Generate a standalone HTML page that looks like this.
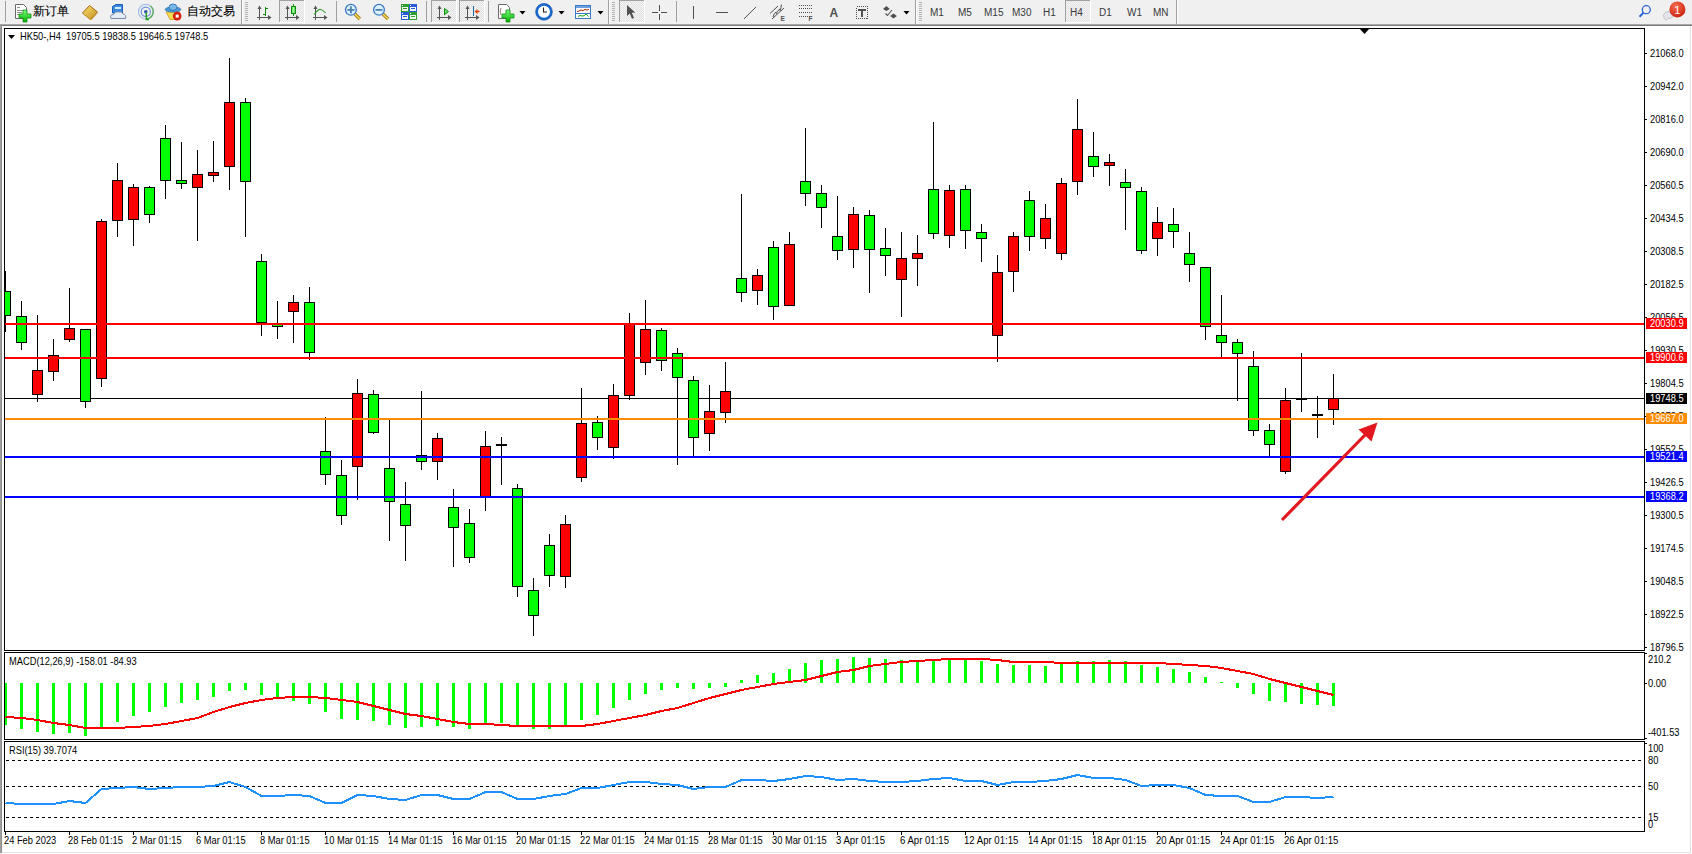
<!DOCTYPE html>
<html><head><meta charset="utf-8"><title>MT4 HK50 H4</title>
<style>
html,body{margin:0;padding:0;width:1692px;height:854px;overflow:hidden;background:#F0F0F0;font-family:"Liberation Sans",sans-serif}
.wrap{position:relative;width:1692px;height:854px}
text{white-space:pre}
</style></head><body><div class="wrap">
<svg width="1692" height="24" style="position:absolute;left:0;top:0" font-family='"Liberation Sans", sans-serif'>
<defs>
<pattern id="dots" width="2" height="2" patternUnits="userSpaceOnUse"><rect width="2" height="2" fill="#F4F4F4"/><rect width="1" height="1" fill="#E2E2E2"/><rect x="1" y="1" width="1" height="1" fill="#E2E2E2"/></pattern>
<linearGradient id="gplus" x1="0" y1="0" x2="0" y2="1"><stop offset="0" stop-color="#7CFF7C"/><stop offset="1" stop-color="#00B000"/></linearGradient>
<linearGradient id="gbook" x1="0" y1="0" x2="1" y2="1"><stop offset="0" stop-color="#F8E070"/><stop offset="1" stop-color="#C89020"/></linearGradient>
<radialGradient id="gbadge" cx="0.4" cy="0.3" r="0.8"><stop offset="0" stop-color="#F87050"/><stop offset="1" stop-color="#C81808"/></radialGradient>
<linearGradient id="gcandle" x1="0" y1="0" x2="1" y2="0"><stop offset="0" stop-color="#30D030"/><stop offset="0.5" stop-color="#A0FFA0"/><stop offset="1" stop-color="#20C020"/></linearGradient>
</defs>
<rect width="1692" height="24" fill="#F0F0F0"/>
<rect x="5" y="1" width="1" height="21" fill="#A0A0A0" shape-rendering="crispEdges"/>
<path d="M15.5,4.5 h8 l3,3 v11 h-11 z" fill="#FFFFFF" stroke="#6A6A6A" stroke-width="1"/>
<rect x="17" y="7" width="3" height="1" fill="#909090"/><rect x="17" y="10" width="6" height="1" fill="#909090"/><rect x="17" y="12" width="5" height="1" fill="#909090"/><rect x="17" y="14" width="3" height="1" fill="#909090"/>
<path d="M23,10 h4 v4 h4 v4 h-4 v4 h-4 v-4 h-4 v-4 h4 z" fill="url(#gplus)" stroke="#109010" stroke-width="0.8"/>
<text x="33" y="15" font-size="11.5" fill="#000" stroke="#000" stroke-width="0.12">新订单</text>
<path d="M82.5,13 L89.5,5.5 L97.5,12 L90.5,19.5 Z" fill="url(#gbook)" stroke="#A06810" stroke-width="1"/>
<path d="M84,14.5 L91,20 L97,13.5" fill="none" stroke="#D8A840" stroke-width="1"/>
<path d="M112.5,6.5 L116,4.5 L122.5,4.5 L122.5,13 L112.5,13 Z" fill="#3A8AE0" stroke="#1E5EB8" stroke-width="1"/>
<rect x="115" y="7" width="6" height="2" fill="#D8ECFF"/>
<path d="M111,18.5 Q109.5,14.5 113.5,14.5 Q115,11 119,12 Q122,11 123,14 Q126.5,14.5 125.5,18.5 Z" fill="#E4ECF6" stroke="#7888A8" stroke-width="1"/>
<circle cx="145.8" cy="11.7" r="7.3" fill="none" stroke="#A8C0E8" stroke-width="1.2"/>
<circle cx="145.8" cy="11.7" r="4.6" fill="none" stroke="#6A90D8" stroke-width="1.2"/>
<path d="M150.5,6 A7.3,7.3 0 0 1 146,19" fill="none" stroke="#60B060" stroke-width="1.4"/>
<circle cx="145.8" cy="11.7" r="1.8" fill="#2A50C0"/>
<path d="M146.3,12 V19.5 H149" fill="none" stroke="#20A020" stroke-width="1.4"/>
<path d="M166,12 L180,12 L176,19.5 L170,19.5 Z" fill="#F4DC50" stroke="#C8A020" stroke-width="0.8"/>
<ellipse cx="173" cy="9.5" rx="7.8" ry="2.6" fill="#4A98D8" stroke="#2A70B0" stroke-width="0.8"/>
<ellipse cx="173" cy="7.2" rx="4" ry="3.2" fill="#78B8E8" stroke="#2A70B0" stroke-width="0.8"/>
<circle cx="177.2" cy="16.1" r="4.3" fill="#D82010"/><rect x="175.7" y="14.6" width="3" height="3" fill="#FFF"/>
<text x="186.5" y="15" font-size="11.5" fill="#000" stroke="#000" stroke-width="0.12">自动交易</text>
<rect x="241" y="0" width="1" height="24" fill="#A0A0A0" shape-rendering="crispEdges"/><rect x="242" y="0" width="1" height="24" fill="#FFFFFF" shape-rendering="crispEdges"/>
<rect x="245" y="2" width="3" height="1" fill="#B4B4B4" shape-rendering="crispEdges"/>
<rect x="245" y="4" width="3" height="1" fill="#B4B4B4" shape-rendering="crispEdges"/>
<rect x="245" y="6" width="3" height="1" fill="#B4B4B4" shape-rendering="crispEdges"/>
<rect x="245" y="8" width="3" height="1" fill="#B4B4B4" shape-rendering="crispEdges"/>
<rect x="245" y="10" width="3" height="1" fill="#B4B4B4" shape-rendering="crispEdges"/>
<rect x="245" y="12" width="3" height="1" fill="#B4B4B4" shape-rendering="crispEdges"/>
<rect x="245" y="14" width="3" height="1" fill="#B4B4B4" shape-rendering="crispEdges"/>
<rect x="245" y="16" width="3" height="1" fill="#B4B4B4" shape-rendering="crispEdges"/>
<rect x="245" y="18" width="3" height="1" fill="#B4B4B4" shape-rendering="crispEdges"/>
<rect x="245" y="20" width="3" height="1" fill="#B4B4B4" shape-rendering="crispEdges"/>
<rect x="259" y="7" width="1" height="13" fill="#555" shape-rendering="crispEdges"/>
<path d="M257.5,9 L259.5,5.5 L261.5,9 Z" fill="#555"/>
<rect x="257" y="17" width="12" height="1" fill="#555" shape-rendering="crispEdges"/>
<path d="M268,15 L271.5,17.5 L268,20 Z" fill="#555"/>
<rect x="265" y="7" width="1" height="9" fill="#108A10" shape-rendering="crispEdges"/><rect x="266" y="8" width="2" height="1" fill="#108A10" shape-rendering="crispEdges"/><rect x="263" y="14" width="2" height="1" fill="#108A10" shape-rendering="crispEdges"/>
<rect x="279" y="0" width="25" height="22" fill="url(#dots)" shape-rendering="crispEdges"/>
<rect x="279" y="0" width="25" height="1" fill="#A0A0A0" shape-rendering="crispEdges"/>
<rect x="279" y="0" width="1" height="22" fill="#A0A0A0" shape-rendering="crispEdges"/>
<rect x="304" y="0" width="1" height="23" fill="#FFFFFF" shape-rendering="crispEdges"/>
<rect x="279" y="22" width="26" height="1" fill="#FFFFFF" shape-rendering="crispEdges"/>
<rect x="287" y="7" width="1" height="13" fill="#555" shape-rendering="crispEdges"/>
<path d="M285.5,9 L287.5,5.5 L289.5,9 Z" fill="#555"/>
<rect x="285" y="17" width="12" height="1" fill="#555" shape-rendering="crispEdges"/>
<path d="M296,15 L299.5,17.5 L296,20 Z" fill="#555"/>
<rect x="293" y="4" width="1" height="12" fill="#108A10" shape-rendering="crispEdges"/>
<rect x="291.5" y="6.5" width="4" height="7" fill="url(#gcandle)" stroke="#108A10" stroke-width="1"/>
<rect x="315" y="7" width="1" height="13" fill="#555" shape-rendering="crispEdges"/>
<path d="M313.5,9 L315.5,5.5 L317.5,9 Z" fill="#555"/>
<rect x="313" y="17" width="12" height="1" fill="#555" shape-rendering="crispEdges"/>
<path d="M324,15 L327.5,17.5 L324,20 Z" fill="#555"/>
<path d="M314.2,14.5 Q317,10 320,9.2 Q322.5,9.5 325.7,13" fill="none" stroke="#2A9A2A" stroke-width="1.1"/>
<rect x="336" y="1" width="1" height="21" fill="#A0A0A0" shape-rendering="crispEdges"/>
<line x1="354.9" y1="14" x2="359.9" y2="19" stroke="#A87808" stroke-width="3.2"/>
<line x1="354.9" y1="14" x2="359.9" y2="19" stroke="#F0D860" stroke-width="1.6"/>
<circle cx="350.9" cy="9.8" r="5.4" fill="#DDF2FF" stroke="#3A78C8" stroke-width="1.3"/>
<rect x="347.4" y="9" width="7" height="1.8" fill="#4A80B0"/>
<rect x="350.0" y="6.3" width="1.8" height="7" fill="#4A80B0"/>
<line x1="383" y1="14" x2="388" y2="19" stroke="#A87808" stroke-width="3.2"/>
<line x1="383" y1="14" x2="388" y2="19" stroke="#F0D860" stroke-width="1.6"/>
<circle cx="379" cy="9.8" r="5.4" fill="#DDF2FF" stroke="#3A78C8" stroke-width="1.3"/>
<rect x="375.5" y="9" width="7" height="1.8" fill="#4A80B0"/>
<rect x="401" y="4" width="8" height="8" fill="#2EA02E" shape-rendering="crispEdges"/>
<rect x="402" y="7" width="6" height="4" fill="#F4F8F4" shape-rendering="crispEdges"/><rect x="403" y="8" width="4" height="1" fill="#2EA02E" shape-rendering="crispEdges"/><rect x="402" y="5" width="1" height="1" fill="#FFF" shape-rendering="crispEdges"/>
<rect x="409" y="4" width="8" height="8" fill="#2A5CD8" shape-rendering="crispEdges"/>
<rect x="410" y="7" width="6" height="4" fill="#F4F8F4" shape-rendering="crispEdges"/><rect x="411" y="8" width="4" height="1" fill="#2A5CD8" shape-rendering="crispEdges"/><rect x="410" y="5" width="1" height="1" fill="#FFF" shape-rendering="crispEdges"/>
<rect x="401" y="12" width="8" height="8" fill="#2A5CD8" shape-rendering="crispEdges"/>
<rect x="402" y="15" width="6" height="4" fill="#F4F8F4" shape-rendering="crispEdges"/><rect x="403" y="16" width="4" height="1" fill="#2A5CD8" shape-rendering="crispEdges"/><rect x="402" y="13" width="1" height="1" fill="#FFF" shape-rendering="crispEdges"/>
<rect x="409" y="12" width="8" height="8" fill="#2EA02E" shape-rendering="crispEdges"/>
<rect x="410" y="15" width="6" height="4" fill="#F4F8F4" shape-rendering="crispEdges"/><rect x="411" y="16" width="4" height="1" fill="#2EA02E" shape-rendering="crispEdges"/><rect x="410" y="13" width="1" height="1" fill="#FFF" shape-rendering="crispEdges"/>
<rect x="426" y="1" width="1" height="21" fill="#A0A0A0" shape-rendering="crispEdges"/>
<rect x="431" y="0" width="25" height="22" fill="url(#dots)" shape-rendering="crispEdges"/>
<rect x="431" y="0" width="25" height="1" fill="#A0A0A0" shape-rendering="crispEdges"/>
<rect x="431" y="0" width="1" height="22" fill="#A0A0A0" shape-rendering="crispEdges"/>
<rect x="456" y="0" width="1" height="23" fill="#FFFFFF" shape-rendering="crispEdges"/>
<rect x="431" y="22" width="26" height="1" fill="#FFFFFF" shape-rendering="crispEdges"/>
<rect x="439" y="7" width="1" height="13" fill="#555" shape-rendering="crispEdges"/>
<path d="M437.5,9 L439.5,5.5 L441.5,9 Z" fill="#555"/>
<rect x="437" y="17" width="12" height="1" fill="#555" shape-rendering="crispEdges"/>
<path d="M448,15 L451.5,17.5 L448,20 Z" fill="#555"/>
<path d="M444.5,8.5 L448.5,11.5 L444.5,14.8 Z" fill="#60E060" stroke="#109010" stroke-width="1"/>
<rect x="459" y="0" width="25" height="22" fill="url(#dots)" shape-rendering="crispEdges"/>
<rect x="459" y="0" width="25" height="1" fill="#A0A0A0" shape-rendering="crispEdges"/>
<rect x="459" y="0" width="1" height="22" fill="#A0A0A0" shape-rendering="crispEdges"/>
<rect x="484" y="0" width="1" height="23" fill="#FFFFFF" shape-rendering="crispEdges"/>
<rect x="459" y="22" width="26" height="1" fill="#FFFFFF" shape-rendering="crispEdges"/>
<rect x="467" y="7" width="1" height="13" fill="#555" shape-rendering="crispEdges"/>
<path d="M465.5,9 L467.5,5.5 L469.5,9 Z" fill="#555"/>
<rect x="465" y="17" width="12" height="1" fill="#555" shape-rendering="crispEdges"/>
<path d="M476,15 L479.5,17.5 L476,20 Z" fill="#555"/>
<rect x="473" y="6" width="1" height="10" fill="#1A6AA8" shape-rendering="crispEdges"/>
<path d="M474.5,11.5 L477.5,9 L477.5,10.8 L479.5,10.8 L479.5,12.2 L477.5,12.2 L477.5,14 Z" fill="#E04000"/>
<rect x="488" y="1" width="1" height="21" fill="#A0A0A0" shape-rendering="crispEdges"/>
<path d="M498.5,4.5 h8 l3,3 v11 h-11 z" fill="#FFFFFF" stroke="#6A6A6A" stroke-width="1"/>
<path d="M501,8 Q499.5,11 501,15" fill="none" stroke="#806040" stroke-width="0.8"/>
<path d="M506,10 h4 v4 h4 v4 h-4 v4 h-4 v-4 h-4 v-4 h4 z" fill="url(#gplus)" stroke="#109010" stroke-width="0.8"/>
<path d="M519.5,11 L525.5,11 L522.5,14.5 Z" fill="#000"/>
<circle cx="544" cy="11.8" r="7.2" fill="#FFFFFF" stroke="#1A6AD0" stroke-width="2.4"/>
<circle cx="544" cy="11.8" r="8.4" fill="none" stroke="#0A4AA0" stroke-width="0.6"/>
<path d="M543.5,7.5 V12 H547" fill="none" stroke="#222" stroke-width="1.1"/>
<path d="M558.5,11 L564.5,11 L561.5,14.5 Z" fill="#000"/>
<rect x="575.5" y="5.5" width="15" height="13" fill="#FFFFFF" stroke="#3A78C8" stroke-width="1"/>
<rect x="576" y="6" width="14" height="2" fill="#6AA0E0" shape-rendering="crispEdges"/><rect x="576" y="13" width="14" height="1" fill="#3A78C8" shape-rendering="crispEdges"/>
<path d="M577,11.5 L579,11 L581,10 L583,10.5 L585,9.5 L587,10 L589,9.5" fill="none" stroke="#B02000" stroke-width="1"/>
<path d="M578,16.5 L580,15.5 L582,16 L584,15.8 L586,14 L588.5,16.5" fill="none" stroke="#10A010" stroke-width="1"/>
<path d="M597.5,11 L603.5,11 L600.5,14.5 Z" fill="#000"/>
<rect x="608" y="0" width="1" height="24" fill="#A0A0A0" shape-rendering="crispEdges"/><rect x="609" y="0" width="1" height="24" fill="#FFFFFF" shape-rendering="crispEdges"/>
<rect x="612" y="2" width="3" height="1" fill="#B4B4B4" shape-rendering="crispEdges"/>
<rect x="612" y="4" width="3" height="1" fill="#B4B4B4" shape-rendering="crispEdges"/>
<rect x="612" y="6" width="3" height="1" fill="#B4B4B4" shape-rendering="crispEdges"/>
<rect x="612" y="8" width="3" height="1" fill="#B4B4B4" shape-rendering="crispEdges"/>
<rect x="612" y="10" width="3" height="1" fill="#B4B4B4" shape-rendering="crispEdges"/>
<rect x="612" y="12" width="3" height="1" fill="#B4B4B4" shape-rendering="crispEdges"/>
<rect x="612" y="14" width="3" height="1" fill="#B4B4B4" shape-rendering="crispEdges"/>
<rect x="612" y="16" width="3" height="1" fill="#B4B4B4" shape-rendering="crispEdges"/>
<rect x="612" y="18" width="3" height="1" fill="#B4B4B4" shape-rendering="crispEdges"/>
<rect x="612" y="20" width="3" height="1" fill="#B4B4B4" shape-rendering="crispEdges"/>
<rect x="619" y="0" width="25" height="22" fill="url(#dots)" shape-rendering="crispEdges"/>
<rect x="619" y="0" width="25" height="1" fill="#A0A0A0" shape-rendering="crispEdges"/>
<rect x="619" y="0" width="1" height="22" fill="#A0A0A0" shape-rendering="crispEdges"/>
<rect x="644" y="0" width="1" height="23" fill="#FFFFFF" shape-rendering="crispEdges"/>
<rect x="619" y="22" width="26" height="1" fill="#FFFFFF" shape-rendering="crispEdges"/>
<path d="M627,5 L627,16 L629.8,13.6 L632,18.8 L634,18 L631.8,12.8 L635.2,12.6 Z" fill="#505050"/>
<rect x="659" y="5" width="1" height="6" fill="#505050" shape-rendering="crispEdges"/><rect x="659" y="14" width="1" height="6" fill="#505050" shape-rendering="crispEdges"/>
<rect x="652" y="12" width="6" height="1" fill="#505050" shape-rendering="crispEdges"/><rect x="661" y="12" width="6" height="1" fill="#505050" shape-rendering="crispEdges"/>
<rect x="676" y="1" width="1" height="21" fill="#A0A0A0" shape-rendering="crispEdges"/>
<rect x="693" y="6" width="1" height="13" fill="#505050" shape-rendering="crispEdges"/>
<rect x="716" y="12" width="12" height="1" fill="#505050" shape-rendering="crispEdges"/>
<line x1="744" y1="18.8" x2="756" y2="7" stroke="#505050" stroke-width="1"/>
<path d="M770,13.5 L778,6 M772,19 L784,8 M773,17 Q774,13 776,12 M776,14 Q777.5,10 780,9 M780,11 Q781,8 781.5,4.5" fill="none" stroke="#505050" stroke-width="1"/>
<text x="780.5" y="21" font-size="6.5" font-weight="bold" fill="#505050">E</text>
<line x1="799" y1="5.5" x2="812" y2="5.5" stroke="#505050" stroke-width="1" stroke-dasharray="1,1" shape-rendering="crispEdges"/>
<line x1="799" y1="8.5" x2="812" y2="8.5" stroke="#505050" stroke-width="1" stroke-dasharray="1,1" shape-rendering="crispEdges"/>
<line x1="799" y1="12.5" x2="812" y2="12.5" stroke="#505050" stroke-width="1" stroke-dasharray="1,1" shape-rendering="crispEdges"/>
<line x1="799" y1="16.5" x2="812" y2="16.5" stroke="#505050" stroke-width="1" stroke-dasharray="1,1" shape-rendering="crispEdges"/>
<text x="808.5" y="21" font-size="6.5" font-weight="bold" fill="#505050">F</text>
<text x="829.5" y="17" font-size="12" font-weight="bold" fill="#505050">A</text>
<rect x="856.5" y="6.5" width="11" height="12" fill="none" stroke="#505050" stroke-width="1" stroke-dasharray="1,1" shape-rendering="crispEdges"/>
<rect x="858" y="9" width="8" height="1.5" fill="#505050" shape-rendering="crispEdges"/><rect x="861" y="9" width="1.6" height="8" fill="#505050" shape-rendering="crispEdges"/>
<path d="M883,9 L886.4,5.9 L889.8,9 L886.4,11 Z M890,16 L893.5,13.5 L897,16 L893.5,18.5 Z" fill="#505050"/>
<path d="M885.5,13.5 L887.5,15.5 L892,10" fill="none" stroke="#505050" stroke-width="1.1"/>
<path d="M903.5,11 L909.5,11 L906.5,14.5 Z" fill="#000"/>
<rect x="915" y="0" width="1" height="24" fill="#A0A0A0" shape-rendering="crispEdges"/><rect x="916" y="0" width="1" height="24" fill="#FFFFFF" shape-rendering="crispEdges"/>
<rect x="919" y="2" width="3" height="1" fill="#B4B4B4" shape-rendering="crispEdges"/>
<rect x="919" y="4" width="3" height="1" fill="#B4B4B4" shape-rendering="crispEdges"/>
<rect x="919" y="6" width="3" height="1" fill="#B4B4B4" shape-rendering="crispEdges"/>
<rect x="919" y="8" width="3" height="1" fill="#B4B4B4" shape-rendering="crispEdges"/>
<rect x="919" y="10" width="3" height="1" fill="#B4B4B4" shape-rendering="crispEdges"/>
<rect x="919" y="12" width="3" height="1" fill="#B4B4B4" shape-rendering="crispEdges"/>
<rect x="919" y="14" width="3" height="1" fill="#B4B4B4" shape-rendering="crispEdges"/>
<rect x="919" y="16" width="3" height="1" fill="#B4B4B4" shape-rendering="crispEdges"/>
<rect x="919" y="18" width="3" height="1" fill="#B4B4B4" shape-rendering="crispEdges"/>
<rect x="919" y="20" width="3" height="1" fill="#B4B4B4" shape-rendering="crispEdges"/>
<rect x="1065" y="0" width="25" height="22" fill="url(#dots)" shape-rendering="crispEdges"/>
<rect x="1065" y="0" width="25" height="1" fill="#A0A0A0" shape-rendering="crispEdges"/>
<rect x="1065" y="0" width="1" height="22" fill="#A0A0A0" shape-rendering="crispEdges"/>
<rect x="1090" y="0" width="1" height="23" fill="#FFFFFF" shape-rendering="crispEdges"/>
<rect x="1065" y="22" width="26" height="1" fill="#FFFFFF" shape-rendering="crispEdges"/>
<text x="930" y="16" font-size="10" fill="#3A3A3A">M1</text>
<text x="958" y="16" font-size="10" fill="#3A3A3A">M5</text>
<text x="984" y="16" font-size="10" fill="#3A3A3A">M15</text>
<text x="1012" y="16" font-size="10" fill="#3A3A3A">M30</text>
<text x="1043" y="16" font-size="10" fill="#3A3A3A">H1</text>
<text x="1070" y="16" font-size="10" fill="#3A3A3A">H4</text>
<text x="1099" y="16" font-size="10" fill="#3A3A3A">D1</text>
<text x="1127" y="16" font-size="10" fill="#3A3A3A">W1</text>
<text x="1153" y="16" font-size="10" fill="#3A3A3A">MN</text>
<rect x="1176" y="0" width="1" height="24" fill="#A0A0A0" shape-rendering="crispEdges"/><rect x="1177" y="0" width="1" height="24" fill="#FFFFFF" shape-rendering="crispEdges"/>
<circle cx="1646.3" cy="9.7" r="4" fill="none" stroke="#2A60D8" stroke-width="1.3"/><line x1="1643.6" y1="12.6" x2="1639.5" y2="16.7" stroke="#2A60D8" stroke-width="2"/>
<path d="M1664,18 Q1662,14 1666,12 Q1671,10 1674,14 Q1674,18 1668,18.5 L1666,20.5 Z" fill="#E4E4EC" stroke="#B8B8C0" stroke-width="0.8"/>
<circle cx="1677.4" cy="9.4" r="8" fill="url(#gbadge)"/>
<text x="1674.3" y="13.6" font-size="11" fill="#FFF">1</text>
</svg>
<svg width="1692" height="854" style="position:absolute;left:0;top:0" font-family='"Liberation Sans", sans-serif'>
<rect x="0" y="24" width="1692" height="830" fill="#FFFFFF"/>
<rect x="0" y="24" width="1692" height="1" fill="#A8A8A8" shape-rendering="crispEdges"/>
<rect x="0" y="25" width="1692" height="1" fill="#7C7C7C" shape-rendering="crispEdges"/>
<rect x="0" y="24" width="1" height="829" fill="#A0A0A0" shape-rendering="crispEdges"/>
<rect x="1" y="25" width="1" height="828" fill="#8C8C8C" shape-rendering="crispEdges"/>
<rect x="1690" y="26" width="1" height="827" fill="#E3E3E3" shape-rendering="crispEdges"/>
<rect x="2" y="852" width="1689" height="1" fill="#E3E3E3" shape-rendering="crispEdges"/>
<rect x="4.5" y="28.5" width="1640" height="622" fill="none" stroke="#000" stroke-width="1" shape-rendering="crispEdges"/>
<rect x="4.5" y="652.5" width="1640" height="87" fill="none" stroke="#000" stroke-width="1" shape-rendering="crispEdges"/>
<rect x="4.5" y="741.5" width="1640" height="90" fill="none" stroke="#000" stroke-width="1" shape-rendering="crispEdges"/>
<defs><clipPath id="cm"><rect x="5" y="29" width="1639" height="621"/></clipPath><clipPath id="cd"><rect x="5" y="653" width="1639" height="86"/></clipPath><clipPath id="cr"><rect x="5" y="742" width="1639" height="88"/></clipPath></defs>
<g clip-path="url(#cm)" shape-rendering="crispEdges">
<rect x="5" y="398" width="1639" height="1" fill="#000"/>
<rect x="5" y="271" width="1" height="61" fill="#000"/>
<rect x="0" y="291" width="11" height="25" fill="#000"/>
<rect x="1" y="292" width="9" height="23" fill="#00FF00"/>
<rect x="21" y="301" width="1" height="49" fill="#000"/>
<rect x="16" y="316" width="11" height="27" fill="#000"/>
<rect x="17" y="317" width="9" height="25" fill="#00FF00"/>
<rect x="37" y="315" width="1" height="87" fill="#000"/>
<rect x="32" y="370" width="11" height="25" fill="#000"/>
<rect x="33" y="371" width="9" height="23" fill="#FF0000"/>
<rect x="53" y="339" width="1" height="42" fill="#000"/>
<rect x="48" y="355" width="11" height="17" fill="#000"/>
<rect x="49" y="356" width="9" height="15" fill="#FF0000"/>
<rect x="69" y="288" width="1" height="54" fill="#000"/>
<rect x="64" y="328" width="11" height="12" fill="#000"/>
<rect x="65" y="329" width="9" height="10" fill="#FF0000"/>
<rect x="85" y="329" width="1" height="79" fill="#000"/>
<rect x="80" y="329" width="11" height="73" fill="#000"/>
<rect x="81" y="330" width="9" height="71" fill="#00FF00"/>
<rect x="101" y="219" width="1" height="168" fill="#000"/>
<rect x="96" y="221" width="11" height="158" fill="#000"/>
<rect x="97" y="222" width="9" height="156" fill="#FF0000"/>
<rect x="117" y="163" width="1" height="74" fill="#000"/>
<rect x="112" y="180" width="11" height="41" fill="#000"/>
<rect x="113" y="181" width="9" height="39" fill="#FF0000"/>
<rect x="133" y="184" width="1" height="62" fill="#000"/>
<rect x="128" y="187" width="11" height="33" fill="#000"/>
<rect x="129" y="188" width="9" height="31" fill="#FF0000"/>
<rect x="149" y="186" width="1" height="37" fill="#000"/>
<rect x="144" y="187" width="11" height="28" fill="#000"/>
<rect x="145" y="188" width="9" height="26" fill="#00FF00"/>
<rect x="165" y="125" width="1" height="74" fill="#000"/>
<rect x="160" y="138" width="11" height="43" fill="#000"/>
<rect x="161" y="139" width="9" height="41" fill="#00FF00"/>
<rect x="181" y="142" width="1" height="47" fill="#000"/>
<rect x="176" y="180" width="11" height="4" fill="#000"/>
<rect x="177" y="181" width="9" height="2" fill="#00FF00"/>
<rect x="197" y="150" width="1" height="91" fill="#000"/>
<rect x="192" y="174" width="11" height="14" fill="#000"/>
<rect x="193" y="175" width="9" height="12" fill="#FF0000"/>
<rect x="213" y="141" width="1" height="41" fill="#000"/>
<rect x="208" y="172" width="11" height="4" fill="#000"/>
<rect x="209" y="173" width="9" height="2" fill="#FF0000"/>
<rect x="229" y="58" width="1" height="132" fill="#000"/>
<rect x="224" y="102" width="11" height="65" fill="#000"/>
<rect x="225" y="103" width="9" height="63" fill="#FF0000"/>
<rect x="245" y="98" width="1" height="139" fill="#000"/>
<rect x="240" y="102" width="11" height="80" fill="#000"/>
<rect x="241" y="103" width="9" height="78" fill="#00FF00"/>
<rect x="261" y="254" width="1" height="82" fill="#000"/>
<rect x="256" y="261" width="11" height="62" fill="#000"/>
<rect x="257" y="262" width="9" height="60" fill="#00FF00"/>
<rect x="277" y="301" width="1" height="38" fill="#000"/>
<rect x="272" y="324" width="11" height="3" fill="#000"/>
<rect x="273" y="325" width="9" height="1" fill="#00FF00"/>
<rect x="293" y="295" width="1" height="48" fill="#000"/>
<rect x="288" y="302" width="11" height="10" fill="#000"/>
<rect x="289" y="303" width="9" height="8" fill="#FF0000"/>
<rect x="309" y="287" width="1" height="73" fill="#000"/>
<rect x="304" y="302" width="11" height="51" fill="#000"/>
<rect x="305" y="303" width="9" height="49" fill="#00FF00"/>
<rect x="325" y="417" width="1" height="68" fill="#000"/>
<rect x="320" y="451" width="11" height="24" fill="#000"/>
<rect x="321" y="452" width="9" height="22" fill="#00FF00"/>
<rect x="341" y="460" width="1" height="65" fill="#000"/>
<rect x="336" y="475" width="11" height="41" fill="#000"/>
<rect x="337" y="476" width="9" height="39" fill="#00FF00"/>
<rect x="357" y="379" width="1" height="121" fill="#000"/>
<rect x="352" y="393" width="11" height="74" fill="#000"/>
<rect x="353" y="394" width="9" height="72" fill="#FF0000"/>
<rect x="373" y="390" width="1" height="44" fill="#000"/>
<rect x="368" y="394" width="11" height="39" fill="#000"/>
<rect x="369" y="395" width="9" height="37" fill="#00FF00"/>
<rect x="389" y="420" width="1" height="121" fill="#000"/>
<rect x="384" y="468" width="11" height="34" fill="#000"/>
<rect x="385" y="469" width="9" height="32" fill="#00FF00"/>
<rect x="405" y="482" width="1" height="79" fill="#000"/>
<rect x="400" y="504" width="11" height="22" fill="#000"/>
<rect x="401" y="505" width="9" height="20" fill="#00FF00"/>
<rect x="421" y="391" width="1" height="79" fill="#000"/>
<rect x="416" y="455" width="11" height="7" fill="#000"/>
<rect x="417" y="456" width="9" height="5" fill="#00FF00"/>
<rect x="437" y="433" width="1" height="47" fill="#000"/>
<rect x="432" y="438" width="11" height="24" fill="#000"/>
<rect x="433" y="439" width="9" height="22" fill="#FF0000"/>
<rect x="453" y="489" width="1" height="78" fill="#000"/>
<rect x="448" y="507" width="11" height="21" fill="#000"/>
<rect x="449" y="508" width="9" height="19" fill="#00FF00"/>
<rect x="469" y="509" width="1" height="54" fill="#000"/>
<rect x="464" y="523" width="11" height="35" fill="#000"/>
<rect x="465" y="524" width="9" height="33" fill="#00FF00"/>
<rect x="485" y="431" width="1" height="80" fill="#000"/>
<rect x="480" y="446" width="11" height="51" fill="#000"/>
<rect x="481" y="447" width="9" height="49" fill="#FF0000"/>
<rect x="501" y="437" width="1" height="48" fill="#000"/>
<rect x="496" y="444" width="11" height="2" fill="#000"/>
<rect x="517" y="484" width="1" height="113" fill="#000"/>
<rect x="512" y="488" width="11" height="99" fill="#000"/>
<rect x="513" y="489" width="9" height="97" fill="#00FF00"/>
<rect x="533" y="578" width="1" height="58" fill="#000"/>
<rect x="528" y="590" width="11" height="26" fill="#000"/>
<rect x="529" y="591" width="9" height="24" fill="#00FF00"/>
<rect x="549" y="534" width="1" height="53" fill="#000"/>
<rect x="544" y="545" width="11" height="31" fill="#000"/>
<rect x="545" y="546" width="9" height="29" fill="#00FF00"/>
<rect x="565" y="515" width="1" height="73" fill="#000"/>
<rect x="560" y="524" width="11" height="53" fill="#000"/>
<rect x="561" y="525" width="9" height="51" fill="#FF0000"/>
<rect x="581" y="388" width="1" height="94" fill="#000"/>
<rect x="576" y="423" width="11" height="55" fill="#000"/>
<rect x="577" y="424" width="9" height="53" fill="#FF0000"/>
<rect x="597" y="416" width="1" height="34" fill="#000"/>
<rect x="592" y="422" width="11" height="16" fill="#000"/>
<rect x="593" y="423" width="9" height="14" fill="#00FF00"/>
<rect x="613" y="384" width="1" height="75" fill="#000"/>
<rect x="608" y="395" width="11" height="53" fill="#000"/>
<rect x="609" y="396" width="9" height="51" fill="#FF0000"/>
<rect x="629" y="313" width="1" height="87" fill="#000"/>
<rect x="624" y="324" width="11" height="72" fill="#000"/>
<rect x="625" y="325" width="9" height="70" fill="#FF0000"/>
<rect x="645" y="300" width="1" height="75" fill="#000"/>
<rect x="640" y="329" width="11" height="34" fill="#000"/>
<rect x="641" y="330" width="9" height="32" fill="#FF0000"/>
<rect x="661" y="328" width="1" height="43" fill="#000"/>
<rect x="656" y="330" width="11" height="31" fill="#000"/>
<rect x="657" y="331" width="9" height="29" fill="#00FF00"/>
<rect x="677" y="348" width="1" height="117" fill="#000"/>
<rect x="672" y="353" width="11" height="25" fill="#000"/>
<rect x="673" y="354" width="9" height="23" fill="#00FF00"/>
<rect x="693" y="376" width="1" height="80" fill="#000"/>
<rect x="688" y="380" width="11" height="58" fill="#000"/>
<rect x="689" y="381" width="9" height="56" fill="#00FF00"/>
<rect x="709" y="385" width="1" height="66" fill="#000"/>
<rect x="704" y="411" width="11" height="23" fill="#000"/>
<rect x="705" y="412" width="9" height="21" fill="#FF0000"/>
<rect x="725" y="362" width="1" height="61" fill="#000"/>
<rect x="720" y="391" width="11" height="22" fill="#000"/>
<rect x="721" y="392" width="9" height="20" fill="#FF0000"/>
<rect x="741" y="194" width="1" height="108" fill="#000"/>
<rect x="736" y="278" width="11" height="15" fill="#000"/>
<rect x="737" y="279" width="9" height="13" fill="#00FF00"/>
<rect x="757" y="269" width="1" height="36" fill="#000"/>
<rect x="752" y="275" width="11" height="16" fill="#000"/>
<rect x="753" y="276" width="9" height="14" fill="#FF0000"/>
<rect x="773" y="241" width="1" height="79" fill="#000"/>
<rect x="768" y="247" width="11" height="60" fill="#000"/>
<rect x="769" y="248" width="9" height="58" fill="#00FF00"/>
<rect x="789" y="232" width="1" height="74" fill="#000"/>
<rect x="784" y="244" width="11" height="62" fill="#000"/>
<rect x="785" y="245" width="9" height="60" fill="#FF0000"/>
<rect x="805" y="128" width="1" height="78" fill="#000"/>
<rect x="800" y="181" width="11" height="13" fill="#000"/>
<rect x="801" y="182" width="9" height="11" fill="#00FF00"/>
<rect x="821" y="185" width="1" height="43" fill="#000"/>
<rect x="816" y="193" width="11" height="15" fill="#000"/>
<rect x="817" y="194" width="9" height="13" fill="#00FF00"/>
<rect x="837" y="196" width="1" height="64" fill="#000"/>
<rect x="832" y="236" width="11" height="15" fill="#000"/>
<rect x="833" y="237" width="9" height="13" fill="#00FF00"/>
<rect x="853" y="207" width="1" height="61" fill="#000"/>
<rect x="848" y="214" width="11" height="36" fill="#000"/>
<rect x="849" y="215" width="9" height="34" fill="#FF0000"/>
<rect x="869" y="210" width="1" height="83" fill="#000"/>
<rect x="864" y="215" width="11" height="35" fill="#000"/>
<rect x="865" y="216" width="9" height="33" fill="#00FF00"/>
<rect x="885" y="228" width="1" height="48" fill="#000"/>
<rect x="880" y="248" width="11" height="8" fill="#000"/>
<rect x="881" y="249" width="9" height="6" fill="#00FF00"/>
<rect x="901" y="232" width="1" height="85" fill="#000"/>
<rect x="896" y="258" width="11" height="22" fill="#000"/>
<rect x="897" y="259" width="9" height="20" fill="#FF0000"/>
<rect x="917" y="235" width="1" height="51" fill="#000"/>
<rect x="912" y="253" width="11" height="6" fill="#000"/>
<rect x="913" y="254" width="9" height="4" fill="#FF0000"/>
<rect x="933" y="122" width="1" height="117" fill="#000"/>
<rect x="928" y="189" width="11" height="45" fill="#000"/>
<rect x="929" y="190" width="9" height="43" fill="#00FF00"/>
<rect x="949" y="185" width="1" height="63" fill="#000"/>
<rect x="944" y="190" width="11" height="46" fill="#000"/>
<rect x="945" y="191" width="9" height="44" fill="#FF0000"/>
<rect x="965" y="185" width="1" height="64" fill="#000"/>
<rect x="960" y="189" width="11" height="42" fill="#000"/>
<rect x="961" y="190" width="9" height="40" fill="#00FF00"/>
<rect x="981" y="224" width="1" height="38" fill="#000"/>
<rect x="976" y="232" width="11" height="7" fill="#000"/>
<rect x="977" y="233" width="9" height="5" fill="#00FF00"/>
<rect x="997" y="255" width="1" height="107" fill="#000"/>
<rect x="992" y="272" width="11" height="64" fill="#000"/>
<rect x="993" y="273" width="9" height="62" fill="#FF0000"/>
<rect x="1013" y="232" width="1" height="60" fill="#000"/>
<rect x="1008" y="236" width="11" height="36" fill="#000"/>
<rect x="1009" y="237" width="9" height="34" fill="#FF0000"/>
<rect x="1029" y="191" width="1" height="60" fill="#000"/>
<rect x="1024" y="200" width="11" height="37" fill="#000"/>
<rect x="1025" y="201" width="9" height="35" fill="#00FF00"/>
<rect x="1045" y="204" width="1" height="45" fill="#000"/>
<rect x="1040" y="218" width="11" height="21" fill="#000"/>
<rect x="1041" y="219" width="9" height="19" fill="#FF0000"/>
<rect x="1061" y="178" width="1" height="82" fill="#000"/>
<rect x="1056" y="183" width="11" height="71" fill="#000"/>
<rect x="1057" y="184" width="9" height="69" fill="#FF0000"/>
<rect x="1077" y="99" width="1" height="96" fill="#000"/>
<rect x="1072" y="129" width="11" height="53" fill="#000"/>
<rect x="1073" y="130" width="9" height="51" fill="#FF0000"/>
<rect x="1093" y="132" width="1" height="45" fill="#000"/>
<rect x="1088" y="156" width="11" height="11" fill="#000"/>
<rect x="1089" y="157" width="9" height="9" fill="#00FF00"/>
<rect x="1109" y="154" width="1" height="32" fill="#000"/>
<rect x="1104" y="162" width="11" height="4" fill="#000"/>
<rect x="1105" y="163" width="9" height="2" fill="#FF0000"/>
<rect x="1125" y="169" width="1" height="61" fill="#000"/>
<rect x="1120" y="182" width="11" height="6" fill="#000"/>
<rect x="1121" y="183" width="9" height="4" fill="#00FF00"/>
<rect x="1141" y="187" width="1" height="67" fill="#000"/>
<rect x="1136" y="191" width="11" height="60" fill="#000"/>
<rect x="1137" y="192" width="9" height="58" fill="#00FF00"/>
<rect x="1157" y="207" width="1" height="49" fill="#000"/>
<rect x="1152" y="222" width="11" height="17" fill="#000"/>
<rect x="1153" y="223" width="9" height="15" fill="#FF0000"/>
<rect x="1173" y="208" width="1" height="40" fill="#000"/>
<rect x="1168" y="224" width="11" height="8" fill="#000"/>
<rect x="1169" y="225" width="9" height="6" fill="#00FF00"/>
<rect x="1189" y="232" width="1" height="50" fill="#000"/>
<rect x="1184" y="253" width="11" height="12" fill="#000"/>
<rect x="1185" y="254" width="9" height="10" fill="#00FF00"/>
<rect x="1205" y="267" width="1" height="73" fill="#000"/>
<rect x="1200" y="267" width="11" height="60" fill="#000"/>
<rect x="1201" y="268" width="9" height="58" fill="#00FF00"/>
<rect x="1221" y="295" width="1" height="63" fill="#000"/>
<rect x="1216" y="335" width="11" height="8" fill="#000"/>
<rect x="1217" y="336" width="9" height="6" fill="#00FF00"/>
<rect x="1237" y="339" width="1" height="62" fill="#000"/>
<rect x="1232" y="342" width="11" height="12" fill="#000"/>
<rect x="1233" y="343" width="9" height="10" fill="#00FF00"/>
<rect x="1253" y="351" width="1" height="85" fill="#000"/>
<rect x="1248" y="366" width="11" height="65" fill="#000"/>
<rect x="1249" y="367" width="9" height="63" fill="#00FF00"/>
<rect x="1269" y="424" width="1" height="32" fill="#000"/>
<rect x="1264" y="430" width="11" height="15" fill="#000"/>
<rect x="1265" y="431" width="9" height="13" fill="#00FF00"/>
<rect x="1285" y="388" width="1" height="86" fill="#000"/>
<rect x="1280" y="400" width="11" height="72" fill="#000"/>
<rect x="1281" y="401" width="9" height="70" fill="#FF0000"/>
<rect x="1301" y="353" width="1" height="59" fill="#000"/>
<rect x="1296" y="398" width="11" height="2" fill="#000"/>
<rect x="1317" y="396" width="1" height="42" fill="#000"/>
<rect x="1312" y="414" width="11" height="2" fill="#000"/>
<rect x="1333" y="374" width="1" height="51" fill="#000"/>
<rect x="1328" y="398" width="11" height="12" fill="#000"/>
<rect x="1329" y="399" width="9" height="10" fill="#FF0000"/>
<rect x="5" y="323" width="1639" height="2" fill="#FF0000"/>
<rect x="5" y="357" width="1639" height="2" fill="#FF0000"/>
<rect x="5" y="418" width="1639" height="2" fill="#FF8C00"/>
<rect x="5" y="456" width="1639" height="2" fill="#0000FF"/>
<rect x="5" y="496" width="1639" height="2" fill="#0000FF"/>
</g>
<path d="M1359.5,28.5 L1369.5,28.5 L1364.5,34 Z" fill="#000"/>
<g fill="#E3171F" stroke="none">
<line x1="1282" y1="520" x2="1366" y2="434" stroke="#E3171F" stroke-width="3.2"/>
<polygon points="1377.5,422.5 1358.5,429.5 1371.5,441.5"/>
</g>
<g clip-path="url(#cd)">
<rect x="4" y="683" width="3" height="42" fill="#00FF00" shape-rendering="crispEdges"/>
<rect x="20" y="683" width="3" height="46" fill="#00FF00" shape-rendering="crispEdges"/>
<rect x="36" y="683" width="3" height="49" fill="#00FF00" shape-rendering="crispEdges"/>
<rect x="52" y="683" width="3" height="51" fill="#00FF00" shape-rendering="crispEdges"/>
<rect x="68" y="683" width="3" height="50" fill="#00FF00" shape-rendering="crispEdges"/>
<rect x="84" y="683" width="3" height="53" fill="#00FF00" shape-rendering="crispEdges"/>
<rect x="100" y="683" width="3" height="45" fill="#00FF00" shape-rendering="crispEdges"/>
<rect x="116" y="683" width="3" height="39" fill="#00FF00" shape-rendering="crispEdges"/>
<rect x="132" y="683" width="3" height="33" fill="#00FF00" shape-rendering="crispEdges"/>
<rect x="148" y="683" width="3" height="29" fill="#00FF00" shape-rendering="crispEdges"/>
<rect x="164" y="683" width="3" height="24" fill="#00FF00" shape-rendering="crispEdges"/>
<rect x="180" y="683" width="3" height="20" fill="#00FF00" shape-rendering="crispEdges"/>
<rect x="196" y="683" width="3" height="17" fill="#00FF00" shape-rendering="crispEdges"/>
<rect x="212" y="683" width="3" height="14" fill="#00FF00" shape-rendering="crispEdges"/>
<rect x="228" y="683" width="3" height="8" fill="#00FF00" shape-rendering="crispEdges"/>
<rect x="244" y="683" width="3" height="7" fill="#00FF00" shape-rendering="crispEdges"/>
<rect x="260" y="683" width="3" height="12" fill="#00FF00" shape-rendering="crispEdges"/>
<rect x="276" y="683" width="3" height="15" fill="#00FF00" shape-rendering="crispEdges"/>
<rect x="292" y="683" width="3" height="18" fill="#00FF00" shape-rendering="crispEdges"/>
<rect x="308" y="683" width="3" height="21" fill="#00FF00" shape-rendering="crispEdges"/>
<rect x="324" y="683" width="3" height="29" fill="#00FF00" shape-rendering="crispEdges"/>
<rect x="340" y="683" width="3" height="36" fill="#00FF00" shape-rendering="crispEdges"/>
<rect x="356" y="683" width="3" height="37" fill="#00FF00" shape-rendering="crispEdges"/>
<rect x="372" y="683" width="3" height="38" fill="#00FF00" shape-rendering="crispEdges"/>
<rect x="388" y="683" width="3" height="42" fill="#00FF00" shape-rendering="crispEdges"/>
<rect x="404" y="683" width="3" height="45" fill="#00FF00" shape-rendering="crispEdges"/>
<rect x="420" y="683" width="3" height="44" fill="#00FF00" shape-rendering="crispEdges"/>
<rect x="436" y="683" width="3" height="43" fill="#00FF00" shape-rendering="crispEdges"/>
<rect x="452" y="683" width="3" height="44" fill="#00FF00" shape-rendering="crispEdges"/>
<rect x="468" y="683" width="3" height="46" fill="#00FF00" shape-rendering="crispEdges"/>
<rect x="484" y="683" width="3" height="42" fill="#00FF00" shape-rendering="crispEdges"/>
<rect x="500" y="683" width="3" height="40" fill="#00FF00" shape-rendering="crispEdges"/>
<rect x="516" y="683" width="3" height="42" fill="#00FF00" shape-rendering="crispEdges"/>
<rect x="532" y="683" width="3" height="46" fill="#00FF00" shape-rendering="crispEdges"/>
<rect x="548" y="683" width="3" height="46" fill="#00FF00" shape-rendering="crispEdges"/>
<rect x="564" y="683" width="3" height="43" fill="#00FF00" shape-rendering="crispEdges"/>
<rect x="580" y="683" width="3" height="37" fill="#00FF00" shape-rendering="crispEdges"/>
<rect x="596" y="683" width="3" height="32" fill="#00FF00" shape-rendering="crispEdges"/>
<rect x="612" y="683" width="3" height="25" fill="#00FF00" shape-rendering="crispEdges"/>
<rect x="628" y="683" width="3" height="17" fill="#00FF00" shape-rendering="crispEdges"/>
<rect x="644" y="683" width="3" height="11" fill="#00FF00" shape-rendering="crispEdges"/>
<rect x="660" y="683" width="3" height="7" fill="#00FF00" shape-rendering="crispEdges"/>
<rect x="676" y="683" width="3" height="5" fill="#00FF00" shape-rendering="crispEdges"/>
<rect x="692" y="683" width="3" height="6" fill="#00FF00" shape-rendering="crispEdges"/>
<rect x="708" y="683" width="3" height="5" fill="#00FF00" shape-rendering="crispEdges"/>
<rect x="724" y="683" width="3" height="4" fill="#00FF00" shape-rendering="crispEdges"/>
<rect x="740" y="680" width="3" height="3" fill="#00FF00" shape-rendering="crispEdges"/>
<rect x="756" y="675" width="3" height="8" fill="#00FF00" shape-rendering="crispEdges"/>
<rect x="772" y="673" width="3" height="10" fill="#00FF00" shape-rendering="crispEdges"/>
<rect x="788" y="669" width="3" height="14" fill="#00FF00" shape-rendering="crispEdges"/>
<rect x="804" y="663" width="3" height="20" fill="#00FF00" shape-rendering="crispEdges"/>
<rect x="820" y="660" width="3" height="23" fill="#00FF00" shape-rendering="crispEdges"/>
<rect x="836" y="659" width="3" height="24" fill="#00FF00" shape-rendering="crispEdges"/>
<rect x="852" y="657" width="3" height="26" fill="#00FF00" shape-rendering="crispEdges"/>
<rect x="868" y="658" width="3" height="25" fill="#00FF00" shape-rendering="crispEdges"/>
<rect x="884" y="659" width="3" height="24" fill="#00FF00" shape-rendering="crispEdges"/>
<rect x="900" y="660" width="3" height="23" fill="#00FF00" shape-rendering="crispEdges"/>
<rect x="916" y="662" width="3" height="21" fill="#00FF00" shape-rendering="crispEdges"/>
<rect x="932" y="661" width="3" height="22" fill="#00FF00" shape-rendering="crispEdges"/>
<rect x="948" y="660" width="3" height="23" fill="#00FF00" shape-rendering="crispEdges"/>
<rect x="964" y="660" width="3" height="23" fill="#00FF00" shape-rendering="crispEdges"/>
<rect x="980" y="661" width="3" height="22" fill="#00FF00" shape-rendering="crispEdges"/>
<rect x="996" y="664" width="3" height="19" fill="#00FF00" shape-rendering="crispEdges"/>
<rect x="1012" y="665" width="3" height="18" fill="#00FF00" shape-rendering="crispEdges"/>
<rect x="1028" y="665" width="3" height="18" fill="#00FF00" shape-rendering="crispEdges"/>
<rect x="1044" y="666" width="3" height="17" fill="#00FF00" shape-rendering="crispEdges"/>
<rect x="1060" y="663" width="3" height="20" fill="#00FF00" shape-rendering="crispEdges"/>
<rect x="1076" y="661" width="3" height="22" fill="#00FF00" shape-rendering="crispEdges"/>
<rect x="1092" y="661" width="3" height="22" fill="#00FF00" shape-rendering="crispEdges"/>
<rect x="1108" y="660" width="3" height="23" fill="#00FF00" shape-rendering="crispEdges"/>
<rect x="1124" y="661" width="3" height="22" fill="#00FF00" shape-rendering="crispEdges"/>
<rect x="1140" y="665" width="3" height="18" fill="#00FF00" shape-rendering="crispEdges"/>
<rect x="1156" y="667" width="3" height="16" fill="#00FF00" shape-rendering="crispEdges"/>
<rect x="1172" y="669" width="3" height="14" fill="#00FF00" shape-rendering="crispEdges"/>
<rect x="1188" y="672" width="3" height="11" fill="#00FF00" shape-rendering="crispEdges"/>
<rect x="1204" y="677" width="3" height="6" fill="#00FF00" shape-rendering="crispEdges"/>
<rect x="1220" y="682" width="3" height="1" fill="#00FF00" shape-rendering="crispEdges"/>
<rect x="1236" y="683" width="3" height="5" fill="#00FF00" shape-rendering="crispEdges"/>
<rect x="1252" y="683" width="3" height="11" fill="#00FF00" shape-rendering="crispEdges"/>
<rect x="1268" y="683" width="3" height="18" fill="#00FF00" shape-rendering="crispEdges"/>
<rect x="1284" y="683" width="3" height="19" fill="#00FF00" shape-rendering="crispEdges"/>
<rect x="1300" y="683" width="3" height="21" fill="#00FF00" shape-rendering="crispEdges"/>
<rect x="1316" y="683" width="3" height="22" fill="#00FF00" shape-rendering="crispEdges"/>
<rect x="1332" y="683" width="3" height="23" fill="#00FF00" shape-rendering="crispEdges"/>
<polyline points="5.5,717 21.5,718 37.5,720 53.5,723 69.5,725 85.5,728 101.5,728 117.5,728 133.5,727 149.5,726 165.5,724 181.5,721 197.5,718 213.5,712 229.5,707 245.5,703 261.5,700 277.5,698 293.5,697 309.5,697 325.5,698 341.5,700 357.5,702 373.5,706 389.5,710 405.5,714 421.5,716 437.5,719 453.5,722 469.5,724 485.5,724 501.5,725 517.5,726 533.5,726 549.5,726 565.5,726 581.5,726 597.5,724 613.5,721 629.5,718 645.5,715 661.5,711 677.5,708 693.5,703 709.5,698 725.5,694 741.5,690 757.5,687 773.5,684 789.5,682 805.5,680 821.5,676 837.5,672 853.5,670 869.5,666 885.5,664 901.5,662 917.5,661 933.5,660 949.5,659 965.5,659 981.5,659 997.5,660 1013.5,662 1029.5,662 1045.5,662 1061.5,663 1077.5,663 1093.5,663 1109.5,663 1125.5,663 1141.5,663 1157.5,663 1173.5,664 1189.5,665 1205.5,666 1221.5,668 1237.5,671 1253.5,674 1269.5,679 1285.5,683 1301.5,687 1317.5,691 1333.5,695" fill="none" stroke="#FF0000" stroke-width="2" shape-rendering="crispEdges"/>
</g>
<g clip-path="url(#cr)">
<line x1="6" y1="760.5" x2="1642" y2="760.5" stroke="#000" stroke-width="1" stroke-dasharray="3,3" shape-rendering="crispEdges"/>
<line x1="6" y1="786.5" x2="1642" y2="786.5" stroke="#000" stroke-width="1" stroke-dasharray="3,3" shape-rendering="crispEdges"/>
<line x1="6" y1="817.5" x2="1642" y2="817.5" stroke="#000" stroke-width="1" stroke-dasharray="3,3" shape-rendering="crispEdges"/>
<polyline points="5.5,803 21.5,804 37.5,804 53.5,804 69.5,801 85.5,803 101.5,789 117.5,788 133.5,787 149.5,789 165.5,788 181.5,787 197.5,787 213.5,786 229.5,782 245.5,787 261.5,796 277.5,796 293.5,795 309.5,796 325.5,803 341.5,803 357.5,795 373.5,796 389.5,799 405.5,800 421.5,795 437.5,795 453.5,799 469.5,799 485.5,792 501.5,792 517.5,799 533.5,799 549.5,796 565.5,794 581.5,788 597.5,788 613.5,785 629.5,782 645.5,782 661.5,784 677.5,785 693.5,789 709.5,787 725.5,787 741.5,780 757.5,780 773.5,781 789.5,779 805.5,776 821.5,777 837.5,780 853.5,779 869.5,781 885.5,782 901.5,782 917.5,781 933.5,779 949.5,778 965.5,781 981.5,781 997.5,785 1013.5,782 1029.5,782 1045.5,781 1061.5,779 1077.5,775 1093.5,778 1109.5,778 1125.5,780 1141.5,786 1157.5,785 1173.5,785 1189.5,788 1205.5,795 1221.5,796 1237.5,796 1253.5,802 1269.5,802 1285.5,797 1301.5,797 1317.5,798 1333.5,797" fill="none" stroke="#1E90FF" stroke-width="2" shape-rendering="crispEdges"/>
</g>
<rect x="1645" y="53" width="2" height="1" fill="#000" shape-rendering="crispEdges"/>
<text x="1650" y="56.5" font-size="10.3" fill="#000" textLength="33.62" lengthAdjust="spacingAndGlyphs">21068.0</text>
<rect x="1645" y="86" width="2" height="1" fill="#000" shape-rendering="crispEdges"/>
<text x="1650" y="89.5" font-size="10.3" fill="#000" textLength="33.62" lengthAdjust="spacingAndGlyphs">20942.0</text>
<rect x="1645" y="119" width="2" height="1" fill="#000" shape-rendering="crispEdges"/>
<text x="1650" y="122.5" font-size="10.3" fill="#000" textLength="33.62" lengthAdjust="spacingAndGlyphs">20816.0</text>
<rect x="1645" y="152" width="2" height="1" fill="#000" shape-rendering="crispEdges"/>
<text x="1650" y="155.5" font-size="10.3" fill="#000" textLength="33.62" lengthAdjust="spacingAndGlyphs">20690.0</text>
<rect x="1645" y="185" width="2" height="1" fill="#000" shape-rendering="crispEdges"/>
<text x="1650" y="188.5" font-size="10.3" fill="#000" textLength="33.62" lengthAdjust="spacingAndGlyphs">20560.5</text>
<rect x="1645" y="218" width="2" height="1" fill="#000" shape-rendering="crispEdges"/>
<text x="1650" y="221.5" font-size="10.3" fill="#000" textLength="33.62" lengthAdjust="spacingAndGlyphs">20434.5</text>
<rect x="1645" y="251" width="2" height="1" fill="#000" shape-rendering="crispEdges"/>
<text x="1650" y="254.5" font-size="10.3" fill="#000" textLength="33.62" lengthAdjust="spacingAndGlyphs">20308.5</text>
<rect x="1645" y="284" width="2" height="1" fill="#000" shape-rendering="crispEdges"/>
<text x="1650" y="287.5" font-size="10.3" fill="#000" textLength="33.62" lengthAdjust="spacingAndGlyphs">20182.5</text>
<rect x="1645" y="317" width="2" height="1" fill="#000" shape-rendering="crispEdges"/>
<text x="1650" y="320.5" font-size="10.3" fill="#000" textLength="33.62" lengthAdjust="spacingAndGlyphs">20056.5</text>
<rect x="1645" y="350" width="2" height="1" fill="#000" shape-rendering="crispEdges"/>
<text x="1650" y="353.5" font-size="10.3" fill="#000" textLength="33.62" lengthAdjust="spacingAndGlyphs">19930.5</text>
<rect x="1645" y="383" width="2" height="1" fill="#000" shape-rendering="crispEdges"/>
<text x="1650" y="386.5" font-size="10.3" fill="#000" textLength="33.62" lengthAdjust="spacingAndGlyphs">19804.5</text>
<rect x="1645" y="416" width="2" height="1" fill="#000" shape-rendering="crispEdges"/>
<text x="1650" y="419.5" font-size="10.3" fill="#000" textLength="33.62" lengthAdjust="spacingAndGlyphs">19678.5</text>
<rect x="1645" y="449" width="2" height="1" fill="#000" shape-rendering="crispEdges"/>
<text x="1650" y="452.5" font-size="10.3" fill="#000" textLength="33.62" lengthAdjust="spacingAndGlyphs">19552.5</text>
<rect x="1645" y="482" width="2" height="1" fill="#000" shape-rendering="crispEdges"/>
<text x="1650" y="485.5" font-size="10.3" fill="#000" textLength="33.62" lengthAdjust="spacingAndGlyphs">19426.5</text>
<rect x="1645" y="515" width="2" height="1" fill="#000" shape-rendering="crispEdges"/>
<text x="1650" y="518.5" font-size="10.3" fill="#000" textLength="33.62" lengthAdjust="spacingAndGlyphs">19300.5</text>
<rect x="1645" y="548" width="2" height="1" fill="#000" shape-rendering="crispEdges"/>
<text x="1650" y="551.5" font-size="10.3" fill="#000" textLength="33.62" lengthAdjust="spacingAndGlyphs">19174.5</text>
<rect x="1645" y="581" width="2" height="1" fill="#000" shape-rendering="crispEdges"/>
<text x="1650" y="584.5" font-size="10.3" fill="#000" textLength="33.62" lengthAdjust="spacingAndGlyphs">19048.5</text>
<rect x="1645" y="614" width="2" height="1" fill="#000" shape-rendering="crispEdges"/>
<text x="1650" y="617.5" font-size="10.3" fill="#000" textLength="33.62" lengthAdjust="spacingAndGlyphs">18922.5</text>
<rect x="1645" y="647" width="2" height="1" fill="#000" shape-rendering="crispEdges"/>
<text x="1650" y="650.5" font-size="10.3" fill="#000" textLength="33.62" lengthAdjust="spacingAndGlyphs">18796.5</text>
<rect x="1646" y="318" width="41" height="11" fill="#FF0000" shape-rendering="crispEdges"/>
<text x="1650" y="326.5" font-size="10.3" fill="#FFF" textLength="33.62" lengthAdjust="spacingAndGlyphs">20030.9</text>
<rect x="1646" y="352" width="41" height="11" fill="#FF0000" shape-rendering="crispEdges"/>
<text x="1650" y="360.5" font-size="10.3" fill="#FFF" textLength="33.62" lengthAdjust="spacingAndGlyphs">19900.6</text>
<rect x="1646" y="393" width="41" height="11" fill="#000000" shape-rendering="crispEdges"/>
<text x="1650" y="401.5" font-size="10.3" fill="#FFF" textLength="33.62" lengthAdjust="spacingAndGlyphs">19748.5</text>
<rect x="1646" y="413" width="41" height="11" fill="#FF8C00" shape-rendering="crispEdges"/>
<text x="1650" y="421.5" font-size="10.3" fill="#FFF" textLength="33.62" lengthAdjust="spacingAndGlyphs">19667.0</text>
<rect x="1646" y="451" width="41" height="11" fill="#0000FF" shape-rendering="crispEdges"/>
<text x="1650" y="459.5" font-size="10.3" fill="#FFF" textLength="33.62" lengthAdjust="spacingAndGlyphs">19521.4</text>
<rect x="1646" y="491" width="41" height="11" fill="#0000FF" shape-rendering="crispEdges"/>
<text x="1650" y="499.5" font-size="10.3" fill="#FFF" textLength="33.62" lengthAdjust="spacingAndGlyphs">19368.2</text>
<rect x="1645" y="653" width="2" height="1" fill="#000" shape-rendering="crispEdges"/>
<text x="1648" y="663" font-size="10.3" fill="#000" textLength="23.27" lengthAdjust="spacingAndGlyphs">210.2</text>
<rect x="1645" y="683" width="2" height="1" fill="#000" shape-rendering="crispEdges"/>
<text x="1648" y="686.5" font-size="10.3" fill="#000" textLength="18.10" lengthAdjust="spacingAndGlyphs">0.00</text>
<rect x="1645" y="738" width="2" height="1" fill="#000" shape-rendering="crispEdges"/>
<text x="1648" y="736" font-size="10.3" fill="#000" textLength="31.54" lengthAdjust="spacingAndGlyphs">-401.53</text>
<rect x="1645" y="743" width="2" height="1" fill="#000" shape-rendering="crispEdges"/>
<text x="1648" y="752" font-size="10.3" fill="#000" textLength="15.52" lengthAdjust="spacingAndGlyphs">100</text>
<text x="1648" y="764" font-size="10.3" fill="#000" textLength="10.34" lengthAdjust="spacingAndGlyphs">80</text>
<text x="1648" y="790" font-size="10.3" fill="#000" textLength="10.34" lengthAdjust="spacingAndGlyphs">50</text>
<text x="1648" y="821" font-size="10.3" fill="#000" textLength="10.34" lengthAdjust="spacingAndGlyphs">15</text>
<text x="1648" y="828" font-size="10.3" fill="#000" textLength="5.17" lengthAdjust="spacingAndGlyphs">0</text>
<path d="M8,35 L15,35 L11.5,39 Z" fill="#000"/>
<text x="20" y="40" font-size="10.3" fill="#000" textLength="188.22" lengthAdjust="spacingAndGlyphs">HK50-,H4  19705.5 19838.5 19646.5 19748.5</text>
<text x="9" y="665" font-size="10.3" fill="#000" textLength="127.68" lengthAdjust="spacingAndGlyphs">MACD(12,26,9) -158.01 -84.93</text>
<text x="9" y="754" font-size="10.3" fill="#000" textLength="68.24" lengthAdjust="spacingAndGlyphs">RSI(15) 39.7074</text>
<rect x="5" y="832" width="1" height="3" fill="#000" shape-rendering="crispEdges"/>
<text x="4" y="844" font-size="10.3" fill="#000" textLength="52.23" lengthAdjust="spacingAndGlyphs">24 Feb 2023</text>
<rect x="69" y="832" width="1" height="3" fill="#000" shape-rendering="crispEdges"/>
<text x="68" y="844" font-size="10.3" fill="#000" textLength="54.81" lengthAdjust="spacingAndGlyphs">28 Feb 01:15</text>
<rect x="133" y="832" width="1" height="3" fill="#000" shape-rendering="crispEdges"/>
<text x="132" y="844" font-size="10.3" fill="#000" textLength="49.63" lengthAdjust="spacingAndGlyphs">2 Mar 01:15</text>
<rect x="197" y="832" width="1" height="3" fill="#000" shape-rendering="crispEdges"/>
<text x="196" y="844" font-size="10.3" fill="#000" textLength="49.63" lengthAdjust="spacingAndGlyphs">6 Mar 01:15</text>
<rect x="261" y="832" width="1" height="3" fill="#000" shape-rendering="crispEdges"/>
<text x="260" y="844" font-size="10.3" fill="#000" textLength="49.63" lengthAdjust="spacingAndGlyphs">8 Mar 01:15</text>
<rect x="325" y="832" width="1" height="3" fill="#000" shape-rendering="crispEdges"/>
<text x="324" y="844" font-size="10.3" fill="#000" textLength="54.80" lengthAdjust="spacingAndGlyphs">10 Mar 01:15</text>
<rect x="389" y="832" width="1" height="3" fill="#000" shape-rendering="crispEdges"/>
<text x="388" y="844" font-size="10.3" fill="#000" textLength="54.80" lengthAdjust="spacingAndGlyphs">14 Mar 01:15</text>
<rect x="453" y="832" width="1" height="3" fill="#000" shape-rendering="crispEdges"/>
<text x="452" y="844" font-size="10.3" fill="#000" textLength="54.80" lengthAdjust="spacingAndGlyphs">16 Mar 01:15</text>
<rect x="517" y="832" width="1" height="3" fill="#000" shape-rendering="crispEdges"/>
<text x="516" y="844" font-size="10.3" fill="#000" textLength="54.80" lengthAdjust="spacingAndGlyphs">20 Mar 01:15</text>
<rect x="581" y="832" width="1" height="3" fill="#000" shape-rendering="crispEdges"/>
<text x="580" y="844" font-size="10.3" fill="#000" textLength="54.80" lengthAdjust="spacingAndGlyphs">22 Mar 01:15</text>
<rect x="645" y="832" width="1" height="3" fill="#000" shape-rendering="crispEdges"/>
<text x="644" y="844" font-size="10.3" fill="#000" textLength="54.80" lengthAdjust="spacingAndGlyphs">24 Mar 01:15</text>
<rect x="709" y="832" width="1" height="3" fill="#000" shape-rendering="crispEdges"/>
<text x="708" y="844" font-size="10.3" fill="#000" textLength="54.80" lengthAdjust="spacingAndGlyphs">28 Mar 01:15</text>
<rect x="773" y="832" width="1" height="3" fill="#000" shape-rendering="crispEdges"/>
<text x="772" y="844" font-size="10.3" fill="#000" textLength="54.80" lengthAdjust="spacingAndGlyphs">30 Mar 01:15</text>
<rect x="837" y="832" width="1" height="3" fill="#000" shape-rendering="crispEdges"/>
<text x="836" y="844" font-size="10.3" fill="#000" textLength="49.00" lengthAdjust="spacingAndGlyphs">3 Apr 01:15</text>
<rect x="901" y="832" width="1" height="3" fill="#000" shape-rendering="crispEdges"/>
<text x="900" y="844" font-size="10.3" fill="#000" textLength="49.00" lengthAdjust="spacingAndGlyphs">6 Apr 01:15</text>
<rect x="965" y="832" width="1" height="3" fill="#000" shape-rendering="crispEdges"/>
<text x="964" y="844" font-size="10.3" fill="#000" textLength="54.33" lengthAdjust="spacingAndGlyphs">12 Apr 01:15</text>
<rect x="1029" y="832" width="1" height="3" fill="#000" shape-rendering="crispEdges"/>
<text x="1028" y="844" font-size="10.3" fill="#000" textLength="54.33" lengthAdjust="spacingAndGlyphs">14 Apr 01:15</text>
<rect x="1093" y="832" width="1" height="3" fill="#000" shape-rendering="crispEdges"/>
<text x="1092" y="844" font-size="10.3" fill="#000" textLength="54.33" lengthAdjust="spacingAndGlyphs">18 Apr 01:15</text>
<rect x="1157" y="832" width="1" height="3" fill="#000" shape-rendering="crispEdges"/>
<text x="1156" y="844" font-size="10.3" fill="#000" textLength="54.33" lengthAdjust="spacingAndGlyphs">20 Apr 01:15</text>
<rect x="1221" y="832" width="1" height="3" fill="#000" shape-rendering="crispEdges"/>
<text x="1220" y="844" font-size="10.3" fill="#000" textLength="54.33" lengthAdjust="spacingAndGlyphs">24 Apr 01:15</text>
<rect x="1285" y="832" width="1" height="3" fill="#000" shape-rendering="crispEdges"/>
<text x="1284" y="844" font-size="10.3" fill="#000" textLength="54.33" lengthAdjust="spacingAndGlyphs">26 Apr 01:15</text>
</svg>
</div></body></html>
